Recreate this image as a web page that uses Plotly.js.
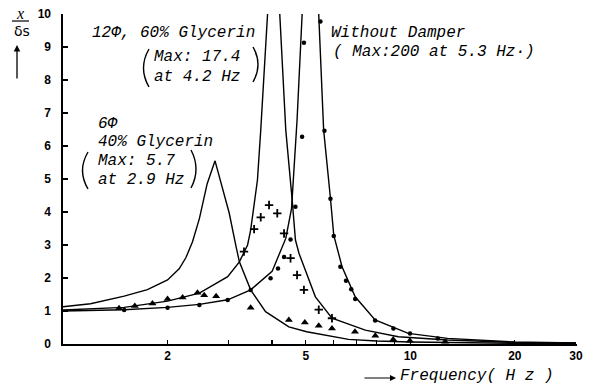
<!DOCTYPE html>
<html>
<head>
<meta charset="utf-8">
<script src="https://cdn.plot.ly/plotly-3.0.1.min.js"></script>
<style>html,body{margin:0;padding:0;background:#fff;}#chart{width:590px;height:386px;}</style>
</head>
<body>
<div id="chart"></div>
<script>
// ---- Data ----
// Curve: 6Φ, 40% Glycerin
const freq6 = [1.0, 1.2, 1.5, 1.75, 2.0, 2.16, 2.26, 2.36, 2.47, 2.6, 2.74, 2.86, 3.01, 3.15, 3.22, 3.47, 3.83, 4.47, 5.03, 6.64, 8.0, 10.0, 15.0, 20.0, 30.0];
const amp6  = [1.13, 1.22, 1.45, 1.65, 1.94, 2.28, 2.62, 3.1, 3.8, 4.85, 5.55, 4.85, 3.97, 2.95, 2.49, 1.64, 0.98, 0.52, 0.37, 0.14, 0.09, 0.06, 0.03, 0.02, 0.01];
// Curve: 12Φ, 60% Glycerin (max 17.4)
const freq12 = [1.0, 1.5, 2.0, 2.16, 2.47, 2.98, 3.22, 3.40, 3.47, 3.63, 3.71, 3.88, 4.04, 4.21, 4.38, 4.57, 4.67, 4.78, 5.33, 5.95, 7.42, 9.24, 12.8, 20.0, 30.0];
const amp12  = [1.03, 1.11, 1.30, 1.38, 1.54, 2.04, 2.49, 3.0, 3.45, 4.97, 6.48, 9.97, 17.4, 9.97, 6.48, 4.36, 3.15, 2.75, 1.43, 0.78, 0.42, 0.22, 0.12, 0.05, 0.03];
// Curve: Without Damper (max 200)
const freqND = [1.0, 1.5, 2.0, 2.47, 2.98, 3.47, 4.0, 4.38, 4.55, 4.72, 4.88, 5.15, 5.45, 5.63, 5.89, 6.02, 6.36, 6.94, 7.92, 9.87, 12.8, 20.0, 30.0];
const ampND  = [1.0, 1.04, 1.11, 1.2, 1.34, 1.64, 2.2, 3.2, 4.1, 6.79, 9.97, 200, 9.97, 6.48, 4.41, 3.3, 2.34, 1.43, 0.73, 0.32, 0.17, 0.06, 0.03];
// Measured points: triangles
const triF = [1.45, 1.61, 1.81, 2.0, 2.21, 2.44, 2.55, 2.76, 3.47, 4.47, 4.97, 5.45, 5.95, 6.93, 7.93, 8.93, 9.97, 12.6];
const triY = [1.08, 1.15, 1.23, 1.36, 1.41, 1.55, 1.48, 1.45, 1.1, 0.73, 0.65, 0.55, 0.47, 0.37, 0.25, 0.14, 0.1, 0.07];
// Measured points: crosses
const plusF = [3.32, 3.55, 3.71, 3.92, 4.14, 4.33, 4.52, 4.72, 4.94, 5.45, 5.95];
const plusY = [2.8, 3.48, 3.84, 4.21, 3.96, 3.35, 2.6, 2.09, 1.64, 1.04, 0.78];
// Measured points: dots
const dotF = [1.5, 2.0, 2.47, 2.98, 3.47, 3.96, 4.16, 4.33, 4.52, 4.67, 4.88, 4.94, 5.51, 5.66, 5.89, 6.02, 6.29, 6.53, 6.76, 6.94, 7.92, 8.94, 9.98, 12.0];
const dotY = [1.03, 1.1, 1.18, 1.33, 1.64, 1.99, 2.29, 2.64, 3.17, 4.16, 6.28, 9.13, 9.77, 6.46, 4.4, 3.27, 2.34, 1.92, 1.66, 1.36, 0.71, 0.47, 0.32, 0.17];
// Axis ticks
const xTickVals = [2, 3, 4, 5, 6, 7, 8, 9, 10, 20, 30];
const xTickText = ['2', '', '', '5', '', '', '', '', '10', '20', '30'];
const yTickVals = [0, 1, 2, 3, 4, 5, 6, 7, 8, 9, 10];

// ---- Drawing ----
const lineStyle = {color: '#000', width: 1.4};
const traces = [
  {x: freq6, y: amp6, mode: 'lines', line: lineStyle, name: '6Φ 40% Glycerin'},
  {x: freq12, y: amp12, mode: 'lines', line: lineStyle, name: '12Φ 60% Glycerin'},
  {x: freqND, y: ampND, mode: 'lines', line: lineStyle, name: 'Without Damper'},
  {x: triF, y: triY, mode: 'markers', marker: {symbol: 'triangle-up', size: 7, color: '#000'}, name: 'tri'},
  {x: plusF, y: plusY, mode: 'markers', marker: {symbol: 'cross-thin', size: 6, color: '#000', line: {color: '#000', width: 1.8}}, name: 'plus'},
  {x: dotF, y: dotY, mode: 'markers', marker: {symbol: 'circle', size: 4.5, color: '#000'}, name: 'dot'}
];

const L = 63, R = 577, T = 14, B = 344;
function px(x) { return (x - L) / (R - L); }
function py(y) { return (B - y) / (B - T); }

const txtFont = {family: 'Liberation Mono, DejaVu Sans Mono, monospace', size: 16, color: '#000'};
function label(text, x, y) {
  return {xref: 'paper', yref: 'paper', x: px(x), y: py(y), text: '<i>' + text + '</i>', showarrow: false,
          xanchor: 'left', yanchor: 'middle', font: txtFont};
}

const annotations = [
  label('12Φ, 60% Glycerin', 90, 33),
  label('Max: 17.4', 152, 57),
  label('at 4.2 Hz', 152, 77),
  label('Without Damper', 329, 33),
  label('( Max:200 at 5.3 Hz·)', 331, 52),
  label('6Φ', 96, 124),
  label('40% Glycerin', 96, 142),
  label('Max: 5.7', 96, 161),
  label('at 2.9 Hz', 96, 180),
  label('Frequency( H z )', 398, 376),
  // y label
  {xref: 'paper', yref: 'paper', x: px(20), y: py(13), text: '<i>x</i>', showarrow: false, xanchor: 'center', yanchor: 'middle',
   font: {family: 'Liberation Serif, serif', size: 16, color: '#000'}},
  {xref: 'paper', yref: 'paper', x: px(22), y: py(31), text: 'δs', showarrow: false, xanchor: 'center', yanchor: 'middle',
   font: {family: 'DejaVu Sans, sans-serif', size: 14, color: '#000'}},
  {xref: 'paper', yref: 'paper', x: px(17), y: py(45), text: '', showarrow: true, ax: 0, ay: 35,
   arrowhead: 2, arrowsize: 1, arrowwidth: 1.3, arrowcolor: '#000'},
  // x arrow
  {xref: 'paper', yref: 'paper', x: px(396), y: py(378), text: '', showarrow: true, ax: -33, ay: 0,
   arrowhead: 2, arrowsize: 1, arrowwidth: 1.2, arrowcolor: '#000'}
];

function paren(x0, y0, y1, bulge) {
  const xm = x0 + bulge, ym = (y0 + y1) / 2;
  return {type: 'path', xref: 'paper', yref: 'paper',
          path: 'M ' + px(x0) + ',' + py(y0) + ' Q ' + px(xm) + ',' + py(ym) + ' ' + px(x0) + ',' + py(y1),
          line: {color: '#000', width: 1.4}};
}
const shapes = [
  paren(149, 49, 87, -11),
  paren(253, 47, 82, 10),
  paren(88, 152, 189, -11),
  paren(191, 150, 188, 10),
  {type: 'line', xref: 'paper', yref: 'paper', x0: px(12), x1: px(29), y0: py(21), y1: py(21), line: {color: '#000', width: 1.2}}
];

const layout = {
  width: 590, height: 386,
  margin: {l: L, r: 590 - R, t: T, b: 386 - B},
  paper_bgcolor: '#fff', plot_bgcolor: '#fff',
  showlegend: false,
  xaxis: {type: 'log', range: [0, Math.log10(30.2)], tickvals: xTickVals, ticktext: xTickText,
          ticks: 'inside', ticklen: 4, tickwidth: 1.2, tickcolor: '#000',
          showline: true, linecolor: '#000', linewidth: 1.6, showgrid: false, zeroline: false,
          tickfont: {family: 'Liberation Sans, Arial, sans-serif', size: 12, color: '#000', weight: 'bold'}},
  yaxis: {range: [0, 10], tickvals: yTickVals,
          ticks: 'inside', ticklen: 5, tickwidth: 1.2, tickcolor: '#000', ticklabelstandoff: 8,
          showline: true, linecolor: '#000', linewidth: 1.6, showgrid: false, zeroline: false,
          tickfont: {family: 'Liberation Sans, Arial, sans-serif', size: 12, color: '#000', weight: 'bold'}},
  annotations: annotations,
  shapes: shapes
};

Plotly.newPlot('chart', traces, layout, {staticPlot: true, displayModeBar: false});
</script>
</body>
</html>
